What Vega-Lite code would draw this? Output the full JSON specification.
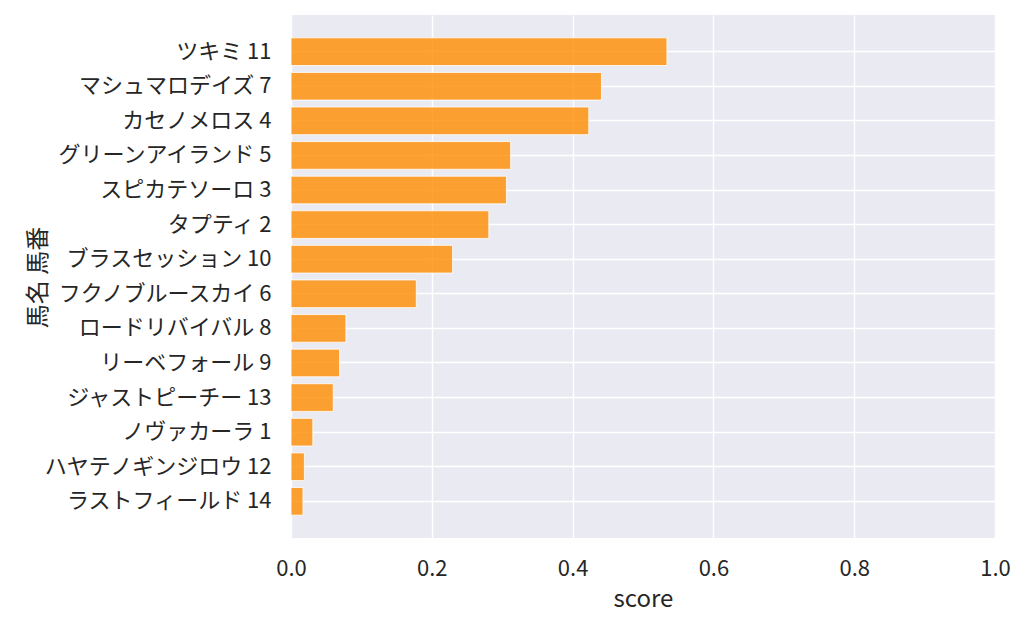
{
  "$schema": "https://vega.github.io/schema/vega-lite/v6.json",
  "autosize": {"type": "none"},
  "padding": {"left": 291, "top": 15, "right": 29, "bottom": 89},
  "width": 704,
  "height": 523,
  "background": "white",
  "config": {
    "view": {"fill": "#eaeaf2", "stroke": null},
    "font": "Noto Sans CJK JP",
    "axis": {
      "domain": false,
      "ticks": false,
      "gridColor": "white",
      "gridWidth": 1.4,
      "labelColor": "#262626",
      "titleColor": "#262626",
      "labelFontSize": 22,
      "titleFontSize": 24,
      "titleFontWeight": "normal",
      "labelFont": "Noto Sans CJK JP",
      "titleFont": "Noto Sans CJK JP",
      "labelLimit": 400
    }
  },
  "data": {
    "values": [
      {"horse": "ツキミ 11", "score": 0.534},
      {"horse": "マシュマロデイズ 7", "score": 0.441},
      {"horse": "カセノメロス 4", "score": 0.423},
      {"horse": "グリーンアイランド 5", "score": 0.312},
      {"horse": "スピカテソーロ 3", "score": 0.306},
      {"horse": "タプティ 2", "score": 0.281},
      {"horse": "ブラスセッション 10", "score": 0.2295},
      {"horse": "フクノブルースカイ 6", "score": 0.178},
      {"horse": "ロードリバイバル 8", "score": 0.078},
      {"horse": "リーベフォール 9", "score": 0.069},
      {"horse": "ジャストピーチー 13", "score": 0.060},
      {"horse": "ノヴァカーラ 1", "score": 0.031},
      {"horse": "ハヤテノギンジロウ 12", "score": 0.019},
      {"horse": "ラストフィールド 14", "score": 0.017}
    ]
  },
  "mark": {
    "type": "bar",
    "fill": "#ff8c00",
    "fillOpacity": 0.8,
    "stroke": "white",
    "strokeOpacity": 0.8,
    "strokeWidth": 1
  },
  "encoding": {
    "y": {
      "field": "horse",
      "type": "nominal",
      "sort": null,
      "title": "馬名 馬番",
      "scale": {"paddingInner": 0.2, "paddingOuter": 0.66},
      "axis": {
        "bandPosition": 0.5,
        "grid": true,
        "labelPadding": 20,
        "titleX": -253,
        "titleY": 262,
        "titleAngle": -90,
        "titleAlign": "center",
        "titleBaseline": "middle"
      }
    },
    "x": {
      "field": "score",
      "type": "quantitative",
      "title": "score",
      "scale": {"domain": [0, 1], "nice": false},
      "axis": {
        "values": [0, 0.2, 0.4, 0.6, 0.8, 1.0],
        "format": ".1f",
        "labelFlush": false,
        "labelPadding": 20,
        "titlePadding": 8
      }
    }
  }
}
